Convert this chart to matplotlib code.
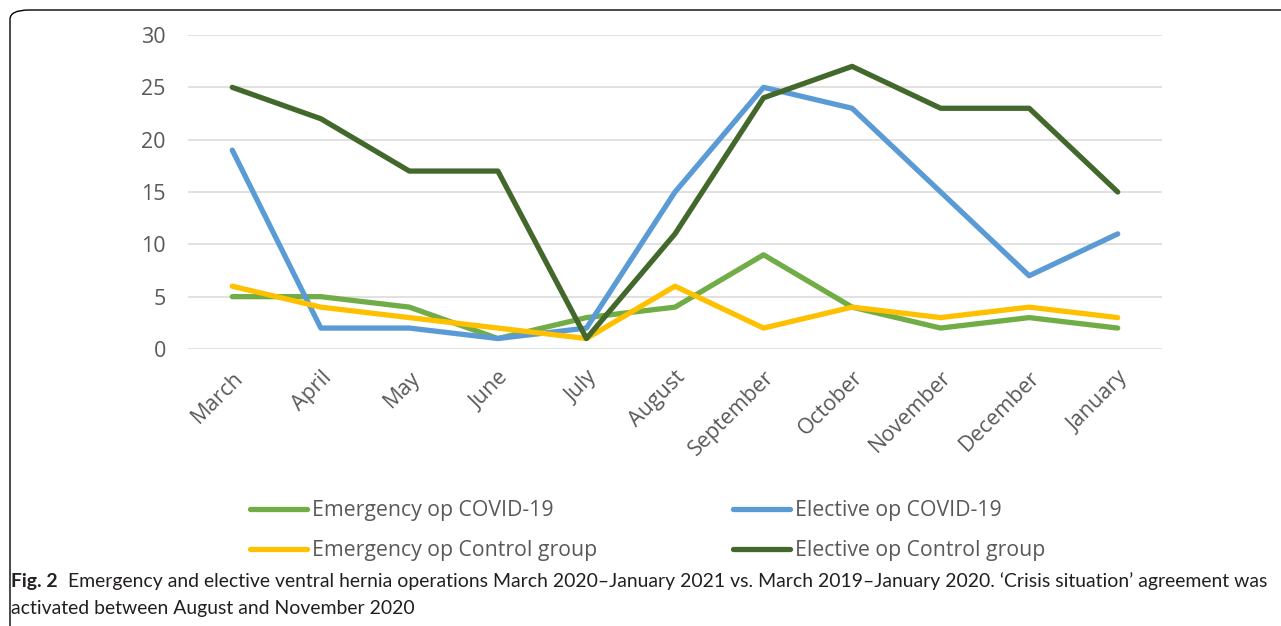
import matplotlib
matplotlib.use("Agg")
import matplotlib.pyplot as plt
from matplotlib.patches import FancyBboxPatch

months = ["March", "April", "May", "June", "July", "August", "September",
          "October", "November", "December", "January"]
emergency_covid = [5, 5, 4, 1, 3, 4, 9, 4, 2, 3, 2]
elective_covid = [19, 2, 2, 1, 2, 15, 25, 23, 15, 7, 11]
emergency_control = [6, 4, 3, 2, 1, 6, 2, 4, 3, 4, 3]
elective_control = [25, 22, 17, 17, 1, 11, 24, 27, 23, 23, 15]

W, H = 1281, 626
TXT = "#595959"
plt.rcParams["font.family"] = ["Open Sans", "DejaVu Sans"]

fig = plt.figure(figsize=(W / 100, H / 100), dpi=100)


def fx(px):
    return px / W


def fy(py):
    return 1 - py / H


# rounded frame around the figure
frame = FancyBboxPatch((fx(10), fy(640)), fx(1320) - fx(10), fy(10) - fy(640),
                       boxstyle="round,pad=0,rounding_size=0.015",
                       transform=fig.transFigure, fill=False,
                       edgecolor="black", lw=1.0, clip_on=False)
fig.patches.append(frame)

ax = fig.add_axes([fx(188), fy(349), fx(1162) - fx(188), fy(35) - fy(349)])
x = list(range(len(months)))
kw = dict(lw=3.8, solid_capstyle="round", solid_joinstyle="round")
l1, = ax.plot(x, emergency_covid, color="#70AD47", label="Emergency op COVID-19", **kw)
l2, = ax.plot(x, elective_covid, color="#5B9BD5", label="Elective op COVID-19", **kw)
l3, = ax.plot(x, emergency_control, color="#FFC000", label="Emergency op Control group", **kw)
l4, = ax.plot(x, elective_control, color="#43682B", label="Elective op Control group", **kw)

ax.set_xlim(-0.5, len(months) - 0.5)
ax.set_ylim(0, 30)
ax.set_yticks(range(0, 31, 5))
ax.set_xticks(x)
ax.set_xticklabels(months, rotation=45, ha="right", va="top",
                   rotation_mode="anchor")
ax.grid(axis="y", color="#D9D9D9", lw=1.1)
ax.set_axisbelow(True)
for s in ax.spines.values():
    s.set_visible(False)
ax.tick_params(axis="both", length=0, labelsize=15.5, labelcolor=TXT)
ax.tick_params(axis="y", pad=16)
ax.tick_params(axis="x", pad=13)

leg_kw = dict(frameon=False, fontsize=15.3, handlelength=2.7, handletextpad=0.22,
              labelspacing=0.9, borderpad=0, borderaxespad=0,
              labelcolor=TXT, loc="upper left")
fig.legend(handles=[l1, l3], bbox_to_anchor=(fx(250), fy(500)), **leg_kw)
fig.legend(handles=[l2, l4], bbox_to_anchor=(fx(733), fy(500)), **leg_kw)

# caption
cap_kw = dict(fontsize=13.95, color="#231F20", va="baseline",
              family=["Lato", "DejaVu Sans"])
t1 = fig.text(fx(11), fy(587), "Fig. 2", fontweight="bold", **cap_kw)
fig.canvas.draw()
bb = t1.get_window_extent()
fig.text((bb.x1 + 10) / W, fy(587),
         "Emergency and elective ventral hernia operations March 2020\u2013January 2021 vs. "
         "March 2019\u2013January 2020. \u2018Crisis situation\u2019 agreement was",
         **cap_kw)
fig.text(fx(11), fy(614), "activated between August and November 2020", **cap_kw)

fig.savefig("out.png", dpi=100)
